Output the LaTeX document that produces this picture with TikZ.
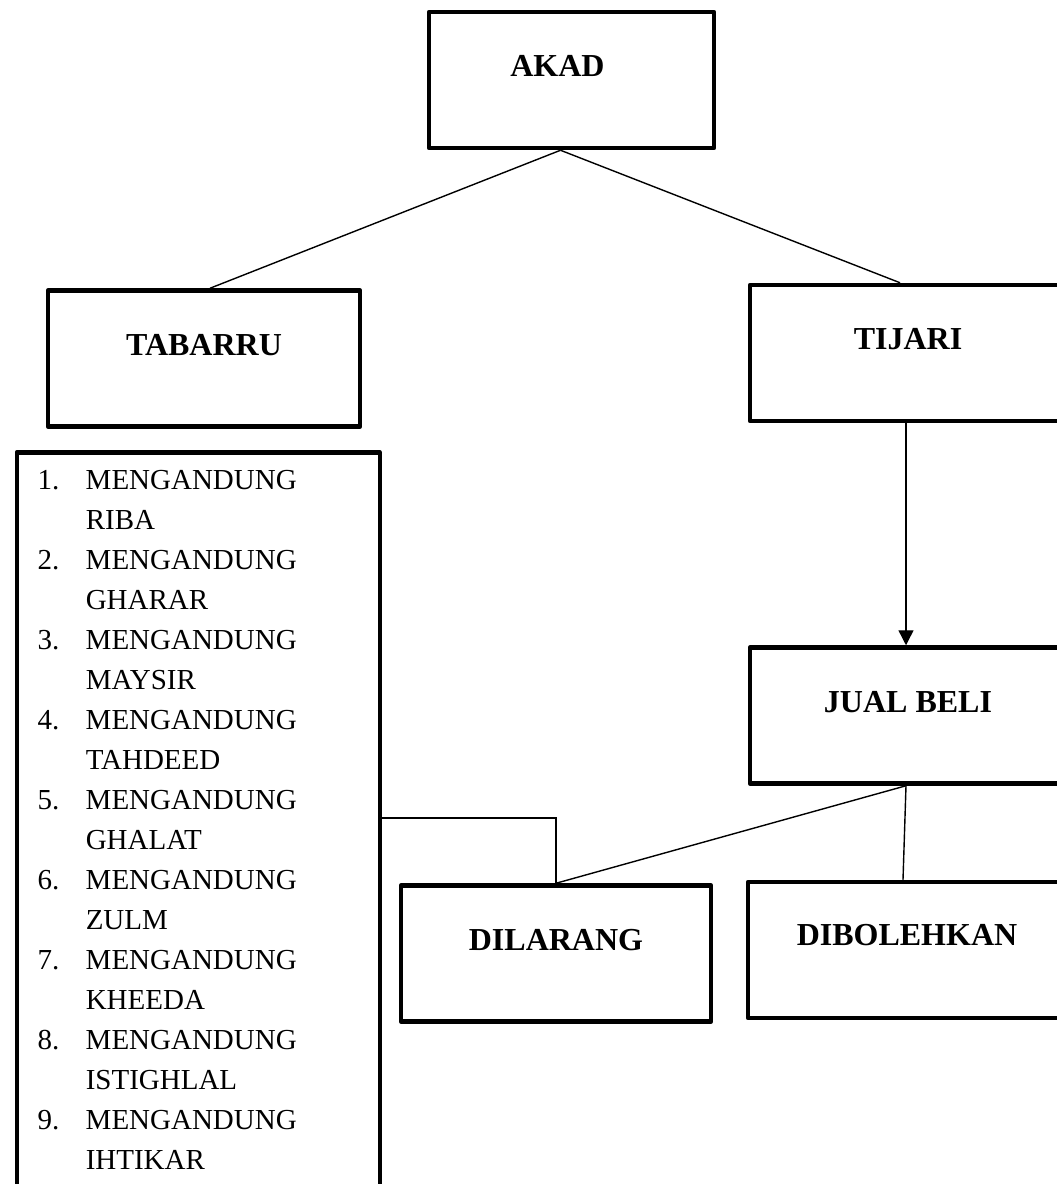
\documentclass[tikz,border=0pt]{standalone}
\usepackage{fontspec}
\setmainfont{Liberation Serif}
\usetikzlibrary{arrows.meta}
\tikzset{
  kotak/.style={draw, line width=4.5pt, line join=round, minimum width=312pt, minimum height=136pt,
    inner sep=0pt, text depth=28pt, font=\fontsize{32}{38}\selectfont\bfseries},
  garis/.style={line width=1.4pt}
}
\begin{document}
\begin{tikzpicture}[x=1pt,y=-1pt]
    \useasboundingbox (0,0) rectangle (1057,1184);
    \node[kotak, minimum width=285pt] (akad) at (571.5,80) {AKAD\hspace*{28pt}};
    \node[kotak] (tabarru) at (204,358.5) {TABARRU};
    \node[kotak, minimum width=316pt] (tijari) at (908,353) {TIJARI};
    \node[kotak, minimum width=316pt] (jualbeli) at (908,715.5) {JUAL BELI};
    \node[kotak, minimum width=310pt] (dilarang) at (556,953.5) {DILARANG};
    \node[kotak, minimum width=318pt, text depth=31pt] (dibolehkan) at (907,950) {DIBOLEHKAN};
    \node[draw, line width=4.5pt, line join=round, anchor=north west, inner xsep=21pt, inner ysep=9pt,
          text width=321pt, align=left, font=\fontsize{29}{40}\selectfont] (larangan) at (14.5,450) {%
        \begin{tabular}{@{}p{48pt}@{}l@{}}
        1. & MENGANDUNG\\ & RIBA\\
        2. & MENGANDUNG\\ & GHARAR\\
        3. & MENGANDUNG\\ & MAYSIR\\
        4. & MENGANDUNG\\ & TAHDEED\\
        5. & MENGANDUNG\\ & GHALAT\\
        6. & MENGANDUNG\\ & ZULM\\
        7. & MENGANDUNG\\ & KHEEDA\\
        8. & MENGANDUNG\\ & ISTIGHLAL\\
        9. & MENGANDUNG\\ & IHTIKAR
        \end{tabular}};
    \coordinate (siku) at (556,818);
    % garis penghubung
    \draw[garis] ([xshift=-11pt]akad.south) -- ([xshift=6pt]tabarru.north);
    \draw[garis] ([xshift=-11pt]akad.south) -- ([xshift=-8pt]tijari.north);
    \draw[garis, -{Triangle[length=15pt, width=15pt]}] ([xshift=-2pt]tijari.south) -- ([xshift=-2pt]jualbeli.north);
    \draw[garis] ([xshift=-2pt]jualbeli.south) -- (dilarang.north);
    \draw[garis] ([xshift=-2pt]jualbeli.south) -- ([xshift=-4pt]dibolehkan.north);
    \draw[garis] (larangan.east |- siku) -- (siku) -- (dilarang.north);
\end{tikzpicture}
\end{document}
